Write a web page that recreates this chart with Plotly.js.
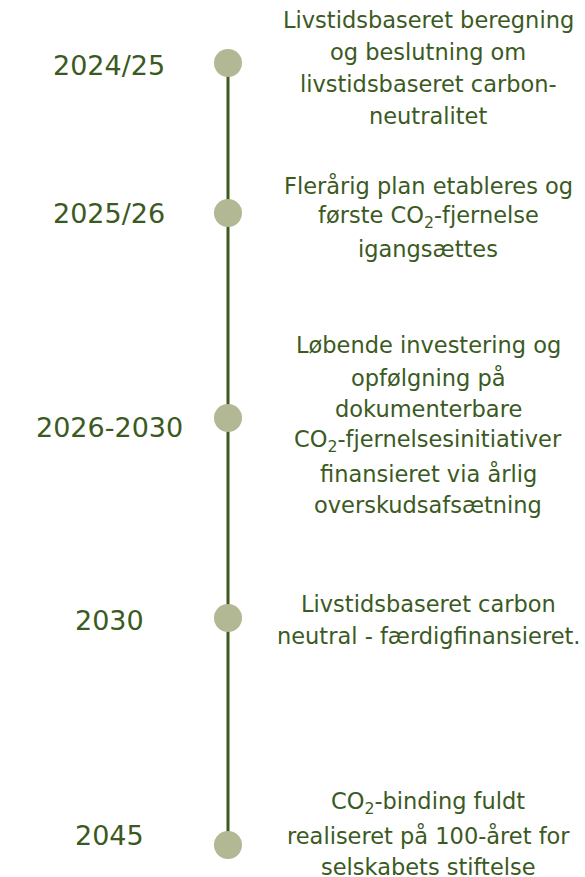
<!DOCTYPE html>
<html>
<head>
<meta charset="utf-8">
<script src="https://cdn.plot.ly/plotly-3.0.1.min.js"></script>
<style>html,body{margin:0;padding:0;background:#fff;}#chart{width:585px;height:877px;}</style>
</head>
<body>
<div id="chart"></div>
<script>
// Timeline data
const years = ["2024/25", "2025/26", "2026-2030", "2030", "2045"];
const milestonePos = [63, 213, 418, 618, 845];   // vertical position of each milestone dot
const yearLabelPos = [65, 213, 427, 620, 835];
const descPos = [68, 217, 425, 620, 835];
const descriptions = [
  ["Livstidsbaseret beregning", "og beslutning om", "livstidsbaseret carbon-", "neutralitet"],
  ["Flerårig plan etableres og", "første CO<sub>2</sub>-fjernelse", "igangsættes"],
  ["Løbende investering og", "opfølgning på", "dokumenterbare", "CO<sub>2</sub>-fjernelsesinitiativer", "finansieret via årlig", "overskudsafsætning"],
  ["Livstidsbaseret carbon", "neutral - færdigfinansieret."],
  ["CO<sub>2</sub>-binding fuldt", "realiseret på 100-året for", "selskabets stiftelse"]
];

const textColor = "#3b5a1f";
const yearFont = "'DejaVu Sans', sans-serif";
const descFont = "'DejaVu Sans', sans-serif";
const lineX = 228, yearX = 109, descX = 428, lineGap = 32;

const traces = [
  {
    x: milestonePos.map(() => lineX), y: milestonePos,
    mode: "lines", line: {color: "#3d5a1f", width: 3},
    hoverinfo: "skip", showlegend: false
  },
  {
    x: milestonePos.map(() => lineX), y: milestonePos,
    mode: "markers", marker: {color: "#b1b893", size: 28},
    text: years, hoverinfo: "text", showlegend: false
  }
];

const annotations = [];
years.forEach((yr, i) => {
  annotations.push({
    x: yearX, y: yearLabelPos[i], xref: "x", yref: "y", text: yr,
    showarrow: false, xanchor: "center", yanchor: "middle",
    font: {family: yearFont, size: 27, color: textColor}
  });
  const lines = descriptions[i];
  lines.forEach((ln, j) => {
    annotations.push({
      x: descX, y: descPos[i] + (j - (lines.length - 1) / 2) * lineGap,
      xref: "x", yref: "y", text: ln, showarrow: false,
      xanchor: "center", yanchor: "middle",
      font: {family: descFont, size: 22.5, color: textColor}
    });
  });
});

const layout = {
  width: 585, height: 877,
  margin: {l: 0, r: 0, t: 0, b: 0},
  paper_bgcolor: "#fff", plot_bgcolor: "#fff",
  xaxis: {range: [0, 585], visible: false, fixedrange: true},
  yaxis: {range: [877, 0], visible: false, fixedrange: true},
  annotations: annotations,
  showlegend: false
};

Plotly.newPlot("chart", traces, layout, {displayModeBar: false, staticPlot: true});
</script>
</body>
</html>
